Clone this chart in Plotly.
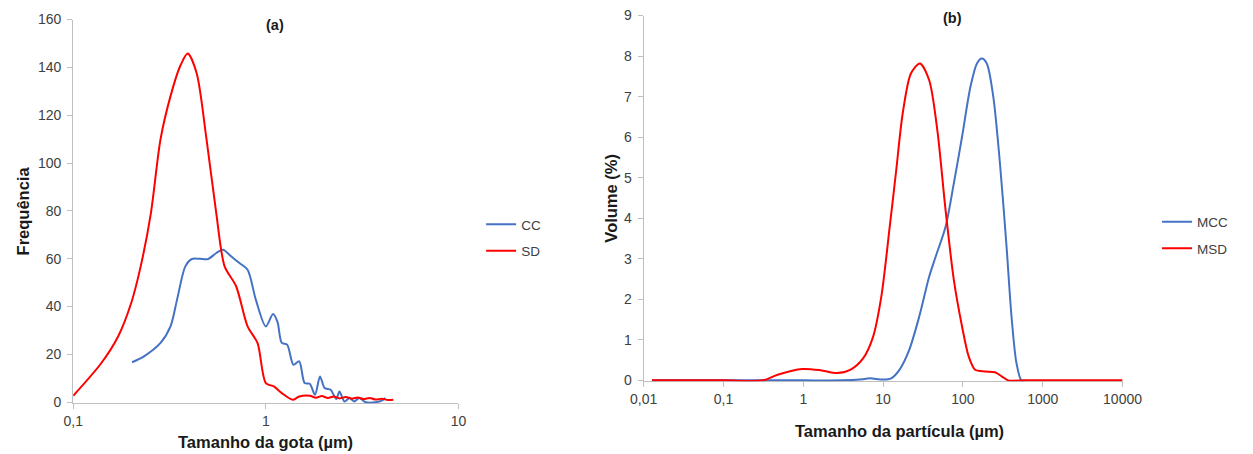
import plotly.graph_objects as go

# ---- (a) droplet size distribution: frequency vs droplet size (µm) ----
cc_size = [0.202, 0.233, 0.284, 0.320, 0.346, 0.382, 0.413, 0.455, 0.502, 0.553,
           0.599, 0.660, 0.729, 0.804, 0.887, 1.00, 1.09, 1.15, 1.21, 1.29,
           1.39, 1.49, 1.59, 1.69, 1.80, 1.91, 2.02, 2.17, 2.32, 2.41,
           2.56, 2.72, 2.88, 3.05, 3.30, 3.72, 4.02, 4.17]
cc_freq = [16.7, 19.2, 24.8, 31.7, 42.9, 56.8, 59.9, 60.0, 59.9, 62.4,
           63.8, 61.0, 58.2, 55.4, 42.9, 31.7, 36.9, 33.5, 24.8, 24.1,
           15.7, 17.1, 8.0, 7.7, 3.1, 10.8, 5.9, 5.2, 1.3, 4.5,
           0.3, 1.8, 0.3, 1.8, 0.0, 0.0, 0.8, 1.8]

sd_size = [0.100, 0.140, 0.171, 0.200, 0.224, 0.253, 0.284, 0.320, 0.359, 0.393,
           0.437, 0.492, 0.553, 0.611, 0.701, 0.804, 0.905, 1.00, 1.10, 1.21,
           1.38, 1.49, 1.69, 1.82, 1.95, 2.10, 2.25, 2.42, 2.60, 2.79,
           3.00, 3.22, 3.46, 3.72, 4.00, 4.30, 4.59]
sd_freq = [2.7, 16.4, 27.5, 41.5, 56.8, 79.0, 110.0, 128.0, 140.5, 145.8,
           137.7, 110.0, 79.0, 56.8, 48.5, 31.7, 24.8, 8.0, 6.6, 3.8,
           1.0, 2.4, 2.7, 1.9, 2.6, 1.8, 2.4, 1.6, 2.2, 1.5,
           2.0, 1.3, 1.8, 1.1, 1.5, 0.9, 1.0]

# ---- (b) particle size distribution: volume (%) vs particle size (µm) ----
mcc_size = [0.0127, 0.311, 1.0, 3.0, 5.6, 6.8, 10.0, 12.6, 16.0, 21.3,
            28.4, 37.8, 45.5, 60.6, 76.9, 97.5, 124, 150, 172, 199,
            240, 291, 352, 406, 468, 540, 600]
mcc_vol = [0, 0, 0, 0, 0.03, 0.05, 0.02, 0.05, 0.26, 0.76,
           1.58, 2.56, 3.05, 3.79, 4.86, 6.01, 7.24, 7.82, 7.94, 7.82,
           7.00, 5.35, 3.30, 1.58, 0.43, 0, 0]

msd_size = [0.0127, 0.1, 0.311, 0.477, 0.97, 1.64, 2.64, 3.86, 5.64, 7.5,
            9.5, 12.1, 14.6, 17.6, 22.3, 28.9, 37.7, 47.8, 60.6, 76.9,
            97.5, 118, 142, 189, 252, 305, 369, 600, 2000, 10000]
msd_vol = [0, 0, 0, 0.14, 0.28, 0.25, 0.18, 0.26, 0.55, 1.08,
           2.07, 3.79, 5.19, 6.59, 7.57, 7.82, 7.41, 6.17, 4.20, 2.48,
           1.33, 0.59, 0.26, 0.22, 0.20, 0.10, 0, 0, 0, 0]

BLUE = "#4472C4"
RED = "#FF0000"
FONT = "Liberation Sans, Arial, sans-serif"
AXIS_GREY = "#BFBFBF"
TICK_COLOR = "#404040"
TITLE_COLOR = "#1a1a1a"

# Figure size; positions below are given as page pixels of the whole
# 1253x454 view (which includes the 8px body margin around the figure).
W, H = 1253, 454
MARGIN = 8
SX = W / (W + 2 * MARGIN)
SY = H / (H + 2 * MARGIN)

def px_x(p):
    return (p / SX - MARGIN) / W

def px_y(p):
    return 1 - (p / SY - MARGIN) / H

fig = go.Figure()

line_kw = dict(shape="spline", smoothing=0.8, width=2)

fig.add_trace(go.Scatter(x=cc_size, y=cc_freq, mode="lines", name="CC",
                         line=dict(color=BLUE, **line_kw),
                         xaxis="x", yaxis="y", legend="legend", legendgroup="cc"))
fig.add_trace(go.Scatter(x=sd_size, y=sd_freq, mode="lines", name="SD",
                         line=dict(color=RED, **line_kw),
                         xaxis="x", yaxis="y", legend="legend", legendgroup="sd"))
fig.add_trace(go.Scatter(x=mcc_size, y=mcc_vol, mode="lines", name="MCC",
                         line=dict(color=BLUE, **line_kw),
                         xaxis="x2", yaxis="y2", legend="legend2", legendgroup="mcc"))
fig.add_trace(go.Scatter(x=msd_size, y=msd_vol, mode="lines", name="MSD",
                         line=dict(color=RED, **line_kw),
                         xaxis="x2", yaxis="y2", legend="legend2", legendgroup="msd"))

axis_common = dict(showline=True, linecolor=AXIS_GREY, linewidth=1,
                   ticks="outside", ticklen=5, tickcolor=AXIS_GREY, tickwidth=1,
                   showgrid=False, zeroline=False, layer="below traces",
                   tickfont=dict(family=FONT, size=14, color=TICK_COLOR))

legend_common = dict(font=dict(family=FONT, size=13.5, color=TICK_COLOR),
                     bgcolor="rgba(0,0,0,0)", tracegroupgap=6,
                     xanchor="left", yanchor="middle", traceorder="grouped")

fig.update_layout(
    width=W, height=H,
    margin=dict(l=0, r=0, t=0, b=0),
    paper_bgcolor="white", plot_bgcolor="white",
    font=dict(family=FONT),
    xaxis=dict(type="log", range=[-1, 1], domain=[px_x(68), px_x(459)],
               anchor="y", tickvals=[0.1, 1, 10], ticktext=["0,1", "1", "10"],
               **axis_common),
    yaxis=dict(range=[-0.4, 160], domain=[px_y(402.5), px_y(19.3)],
               anchor="x", tickvals=list(range(0, 161, 20)),
               ticklabelstandoff=3, **axis_common),
    xaxis2=dict(type="log", range=[-2, 4], domain=[px_x(647), px_x(1133)],
                anchor="y2", tickvals=[0.01, 0.1, 1, 10, 100, 1000, 10000],
                ticktext=["0,01", "0,1", "1", "10", "100", "1000", "10000"],
                **axis_common),
    yaxis2=dict(range=[-0.025, 9], domain=[px_y(380.7), px_y(15.3)],
                anchor="x2", tickvals=list(range(0, 10)),
                ticklabelstandoff=3, **axis_common),
    legend=dict(x=px_x(482), y=px_y(237.5), **legend_common),
    legend2=dict(x=px_x(1168), y=px_y(235), **legend_common),
)

title_font = dict(family=FONT, size=16.5, color=TITLE_COLOR)
panel_font = dict(family=FONT, size=14.5, color=TITLE_COLOR)

annotations = [
    dict(text="<b>(a)</b>", x=px_x(273), y=px_y(25), font=panel_font),
    dict(text="<b>(b)</b>", x=px_x(960), y=px_y(18), font=panel_font),
    dict(text="<b>Tamanho da gota (µm)</b>", x=px_x(263), y=px_y(441), font=title_font),
    dict(text="<b>Tamanho da partícula (µm)</b>", x=px_x(907), y=px_y(430), font=title_font),
    dict(text="<b>Frequência</b>", x=px_x(18), y=px_y(210), font=title_font, textangle=-90),
    dict(text="<b>Volume (%)</b>", x=px_x(614), y=px_y(198), font=title_font, textangle=-90),
]
for a in annotations:
    fig.add_annotation(xref="paper", yref="paper", showarrow=False,
                       xanchor="center", yanchor="middle", **a)

fig.write_html("out.html")
